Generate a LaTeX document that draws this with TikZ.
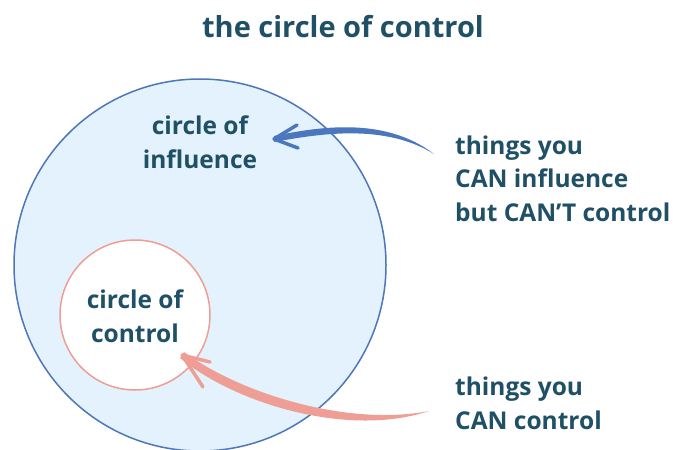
\documentclass[tikz,border=0pt]{standalone}
\usepackage{fontspec}
\setmainfont{Open Sans}
\usepackage{tikz}
\usetikzlibrary{calc}
\definecolor{ink}{RGB}{31,80,102}
\definecolor{skyfill}{RGB}{227,242,252}
\definecolor{skyline}{RGB}{78,118,184}
\definecolor{coral}{RGB}{238,158,148}
\definecolor{brushblue}{RGB}{74,119,190}
\tikzset{labeltext/.style={text=ink, font=\bfseries\fontsize{24.5}{33.5}\selectfont, inner sep=0pt}}
\tikzset{barb/.style={line width=3.5pt, line cap=round, line join=round}}

\begin{document}
\begin{tikzpicture}[x=1pt, y=-1pt]
\useasboundingbox (0,0) rectangle (676,449);

\node[circle, fill=skyfill, draw=skyline, line width=1.5pt, inner sep=0pt, minimum size=372pt] (infl) at (200,265) {};
\node[circle, fill=white, draw=coral, line width=1.5pt, inner sep=0pt, minimum size=150pt] (ctrl) at (135,315) {};

% base anchors sit on the last line
\node[text=ink, font=\bfseries\fontsize{29}{35}\selectfont, anchor=base] (title) at (343,38) {the circle of control};
\node[labeltext, anchor=base, align=center] (inflText) at (200,168) {circle of\\influence};
\node[labeltext, anchor=base, align=center] (ctrlText) at (135,342) {circle of\\control};
\node[labeltext, anchor=base west, align=left] (canInfl) at (455,221) {things you\\CAN influence\\but CAN’T control};
\node[labeltext, anchor=base west, align=left] (canCtrl) at (455,429) {things you\\CAN control};

% blue brush stroke
\coordinate (inflTail) at (434,154);
\coordinate (inflTip) at (274,139);
\fill[brushblue] (inflTail) .. controls (385,116.5) and (320,126.5) .. ($(inflTip)+(0,-3)$)
  -- ($(inflTip)+(0,3)$) .. controls (320,133.5) and (385,123.5) .. (inflTail) -- cycle;
\draw[barb, brushblue] (297,125) -- (inflTip) -- (298,148);

% coral brush stroke
\coordinate (ctrlTail) at (429,411);
\coordinate (ctrlTip) at (182,355);
\fill[coral] (ctrlTail) .. controls (350,426.5) and (242.5,395) .. ($(ctrlTip)+(2,-3)$)
  -- ($(ctrlTip)+(-2,3)$) .. controls (237.5,405) and (350,437.5) .. (ctrlTail) -- cycle;
\draw[barb, coral] (210,362) -- (ctrlTip) -- (203,387);

\end{tikzpicture}
\end{document}
